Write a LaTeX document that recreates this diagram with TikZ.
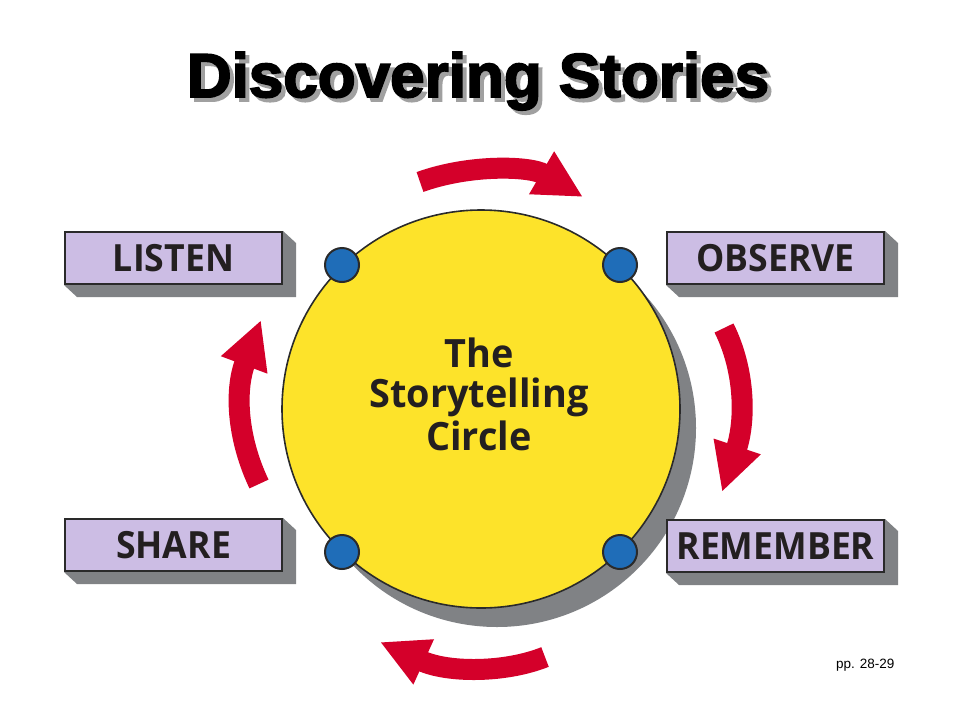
\documentclass[tikz,border=0pt]{standalone}
\usepackage{fontspec}
\setmainfont{Liberation Sans}
\newfontfamily\titlefont{Liberation Sans}[BoldFeatures={FakeBold=3}]
\newfontfamily\labelfont{Open Sans}[FakeStretch=0.95]
\newfontfamily\circlefont{Open Sans}[FakeStretch=0.97]
\usetikzlibrary{arrows.meta,calc}
\definecolor{cyellow}{HTML}{FDE32A}
\definecolor{cshadow}{HTML}{808285}
\definecolor{cblue}{HTML}{1F6DB8}
\definecolor{cred}{HTML}{D4002A}
\definecolor{clav}{HTML}{CCBDE4}
\definecolor{ctext}{HTML}{231F20}
\definecolor{cedge}{HTML}{2A2A2A}
\definecolor{ctitleshadow}{HTML}{A0A0A0}
\tikzset{
  labelbox/.style={rectangle, draw=cedge, line width=2pt, fill=clav,
    minimum width=217pt, minimum height=52pt, inner sep=0pt,
    text=ctext, font=\labelfont\bfseries\fontsize{37.5}{40}\selectfont},
  dot/.style={circle, draw=cedge, line width=2pt, fill=cblue,
    minimum size=34pt, inner sep=0pt},
  cyclearrow/.style={draw=cred, line width=21pt,
    -{Triangle[length=48pt,width=46pt]}, fill=none},
  centertext/.style={anchor=base, text=ctext,
    font=\circlefont\bfseries\fontsize{39}{42}\selectfont},
}
\newcommand{\extrude}[1]{%
  \fill[cshadow] (#1.north east) -- ++(13,12) -- ($(#1.south east)+(13,12)$)
     -- ($(#1.south west)+(13,12)$) -- (#1.south west) -- cycle;}
\begin{document}
\begin{tikzpicture}[x=1pt,y=-1pt]
\useasboundingbox[fill=white] (0,0) rectangle (960,720);
% title with its shadow
\node[anchor=base, text=black, font=\titlefont\bfseries\fontsize{62}{64}\selectfont] (title) at (478,97)
  {\rlap{\kern4pt\raisebox{-4pt}{\color{ctitleshadow}Discovering Stories}}Discovering Stories};
% circle
\fill[cshadow] (497,428) circle (199);
\node[circle, draw=cedge, line width=1.6pt, fill=cyellow, minimum size=398pt, inner sep=0pt] (circ) at (481,409) {};
\node[centertext] (t1) at (479,367) {The};
\node[centertext] (t2) at (479,407) {Storytelling};
\node[centertext] (t3) at (479,450) {Circle};
% dots
\node[dot] (d1) at (342,265) {};
\node[dot] (d2) at (620,265) {};
\node[dot] (d3) at (342,552) {};
\node[dot] (d4) at (620,552) {};
% boxes
\node[labelbox] (listen) at (173.5,258) {};
\extrude{listen}
\node[labelbox] (listen) at (173.5,258) {LISTEN};
\node[labelbox] (observe) at (775.5,258) {};
\extrude{observe}
\node[labelbox] (observe) at (775.5,258) {OBSERVE};
\node[labelbox] (share) at (173.5,545) {};
\extrude{share}
\node[labelbox] (share) at (173.5,545) {SHARE};
\node[labelbox] (remember) at (775.5,546) {};
\extrude{remember}
\node[labelbox] (remember) at (775.5,546) {REMEMBER};
% arrows
\coordinate (a1s) at (420,182);
\coordinate (a1e) at (583,197);
\draw[cyclearrow] (a1s) .. controls (470,164) and (530,166) .. (a1e);
\coordinate (a2s) at (724,328);
\coordinate (a2e) at (722,492);
\draw[cyclearrow] (a2s) .. controls (745,370) and (746,420) .. (a2e);
\coordinate (a3s) at (545,657);
\coordinate (a3e) at (380,642);
\draw[cyclearrow] (a3s) .. controls (505,673) and (448,673) .. (a3e);
\coordinate (a4s) at (259,484);
\coordinate (a4e) at (261,320);
\draw[cyclearrow] (a4s) .. controls (238,440) and (234,392) .. (a4e);
% page ref
\node[anchor=base east, font=\fontsize{13.5}{15}\selectfont, text=black] (pp) at (898,668) {pp. 28-29};
\end{tikzpicture}
\end{document}
